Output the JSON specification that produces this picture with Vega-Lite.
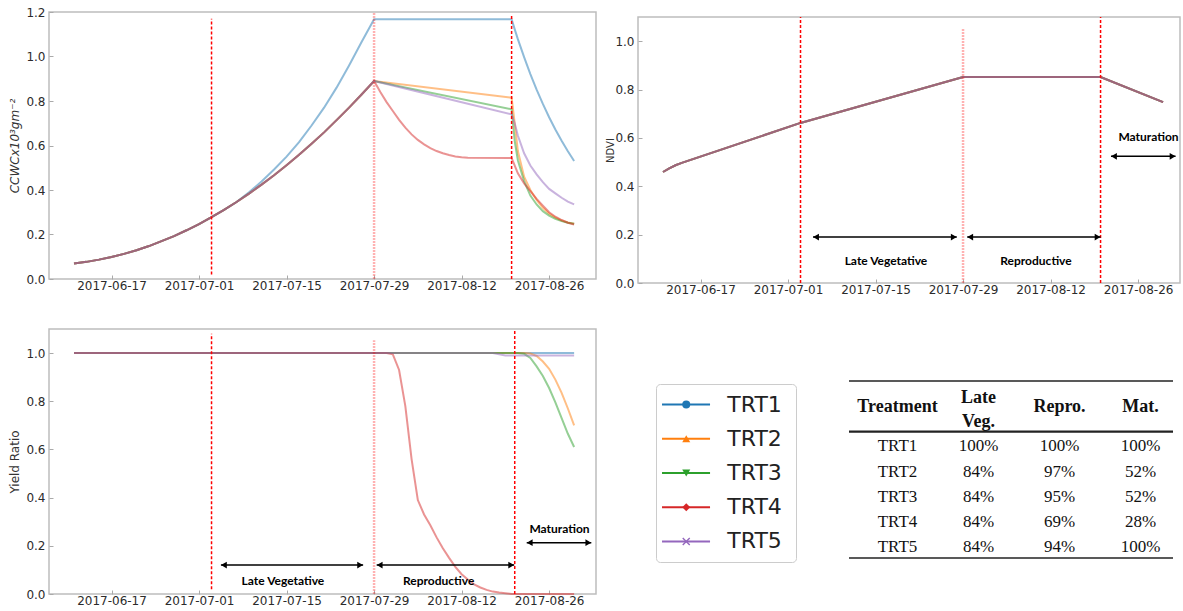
{
  "$schema": "https://vega.github.io/schema/vega-lite/v6.json",
  "padding": {"left": 8, "top": 5, "right": 0, "bottom": 0},
  "background": "white",
  "config": {
    "view": {"stroke": "#bdbdbd", "strokeWidth": 1.5},
    "axis": {"grid": false, "domain": false, "tickSize": -4, "tickColor": "#aaaaaa", "tickWidth": 1, "labelFont": "DejaVu Sans", "labelFontSize": 12, "labelColor": "#2b2b2b", "titleFont": "DejaVu Sans", "titleFontSize": 12, "titleFontWeight": "normal", "titleColor": "#333333"},
    "axisX": {"labelPadding": 5},
    "axisY": {"labelPadding": 8, "titlePadding": 4}
  },
  "spacing": 31,
  "vconcat": [
    {
      "spacing": 8,
      "hconcat": [
        {
          "width": 547,
          "height": 267,
          "layer": [
            {
              "data": {"values": [
                {"d":"2017/06/11","s":"TRT1","v":0.070},{"d":"2017/06/13","s":"TRT1","v":0.077},{"d":"2017/06/15","s":"TRT1","v":0.087},{"d":"2017/06/17","s":"TRT1","v":0.099},{"d":"2017/06/19","s":"TRT1","v":0.113},{"d":"2017/06/21","s":"TRT1","v":0.129},{"d":"2017/06/23","s":"TRT1","v":0.148},{"d":"2017/06/25","s":"TRT1","v":0.170},{"d":"2017/06/27","s":"TRT1","v":0.193},{"d":"2017/06/29","s":"TRT1","v":0.219},{"d":"2017/07/01","s":"TRT1","v":0.247},{"d":"2017/07/03","s":"TRT1","v":0.278},{"d":"2017/07/05","s":"TRT1","v":0.311},{"d":"2017/07/07","s":"TRT1","v":0.346},
                {"d":"2017/07/09","s":"TRT1","v":0.390},{"d":"2017/07/11","s":"TRT1","v":0.438},{"d":"2017/07/13","s":"TRT1","v":0.492},{"d":"2017/07/15","s":"TRT1","v":0.550},{"d":"2017/07/17","s":"TRT1","v":0.615},{"d":"2017/07/19","s":"TRT1","v":0.690},{"d":"2017/07/21","s":"TRT1","v":0.770},{"d":"2017/07/23","s":"TRT1","v":0.860},{"d":"2017/07/25","s":"TRT1","v":0.960},{"d":"2017/07/27","s":"TRT1","v":1.065},{"d":"2017/07/29","s":"TRT1","v":1.167},
                {"d":"2017/08/20","s":"TRT1","v":1.167},{"d":"2017/08/20 12:00","s":"TRT1","v":1.122},{"d":"2017/08/21","s":"TRT1","v":1.078},{"d":"2017/08/22","s":"TRT1","v":0.997},{"d":"2017/08/23","s":"TRT1","v":0.921},{"d":"2017/08/24","s":"TRT1","v":0.851},{"d":"2017/08/25","s":"TRT1","v":0.787},{"d":"2017/08/26","s":"TRT1","v":0.727},{"d":"2017/08/27","s":"TRT1","v":0.672},{"d":"2017/08/28","s":"TRT1","v":0.621},{"d":"2017/08/29","s":"TRT1","v":0.574},{"d":"2017/08/30","s":"TRT1","v":0.530},

                {"d":"2017/06/11","s":"TRT2","v":0.070},{"d":"2017/06/13","s":"TRT2","v":0.077},{"d":"2017/06/15","s":"TRT2","v":0.087},{"d":"2017/06/17","s":"TRT2","v":0.099},{"d":"2017/06/19","s":"TRT2","v":0.113},{"d":"2017/06/21","s":"TRT2","v":0.129},{"d":"2017/06/23","s":"TRT2","v":0.148},{"d":"2017/06/25","s":"TRT2","v":0.170},{"d":"2017/06/27","s":"TRT2","v":0.193},{"d":"2017/06/29","s":"TRT2","v":0.219},{"d":"2017/07/01","s":"TRT2","v":0.247},{"d":"2017/07/03","s":"TRT2","v":0.278},{"d":"2017/07/05","s":"TRT2","v":0.311},{"d":"2017/07/07","s":"TRT2","v":0.346},
                {"d":"2017/07/09","s":"TRT2","v":0.384},{"d":"2017/07/11","s":"TRT2","v":0.424},{"d":"2017/07/13","s":"TRT2","v":0.466},{"d":"2017/07/15","s":"TRT2","v":0.511},{"d":"2017/07/17","s":"TRT2","v":0.558},{"d":"2017/07/19","s":"TRT2","v":0.608},{"d":"2017/07/21","s":"TRT2","v":0.659},{"d":"2017/07/23","s":"TRT2","v":0.714},{"d":"2017/07/25","s":"TRT2","v":0.770},{"d":"2017/07/27","s":"TRT2","v":0.829},{"d":"2017/07/29","s":"TRT2","v":0.890},
                {"d":"2017/08/20","s":"TRT2","v":0.815},{"d":"2017/08/20 12:00","s":"TRT2","v":0.700},{"d":"2017/08/21","s":"TRT2","v":0.575},{"d":"2017/08/22","s":"TRT2","v":0.460},{"d":"2017/08/23","s":"TRT2","v":0.400},{"d":"2017/08/24","s":"TRT2","v":0.355},{"d":"2017/08/25","s":"TRT2","v":0.320},{"d":"2017/08/26","s":"TRT2","v":0.294},{"d":"2017/08/27","s":"TRT2","v":0.276},{"d":"2017/08/28","s":"TRT2","v":0.263},{"d":"2017/08/29","s":"TRT2","v":0.254},{"d":"2017/08/30","s":"TRT2","v":0.248},

                {"d":"2017/06/11","s":"TRT3","v":0.070},{"d":"2017/06/13","s":"TRT3","v":0.077},{"d":"2017/06/15","s":"TRT3","v":0.087},{"d":"2017/06/17","s":"TRT3","v":0.099},{"d":"2017/06/19","s":"TRT3","v":0.113},{"d":"2017/06/21","s":"TRT3","v":0.129},{"d":"2017/06/23","s":"TRT3","v":0.148},{"d":"2017/06/25","s":"TRT3","v":0.170},{"d":"2017/06/27","s":"TRT3","v":0.193},{"d":"2017/06/29","s":"TRT3","v":0.219},{"d":"2017/07/01","s":"TRT3","v":0.247},{"d":"2017/07/03","s":"TRT3","v":0.278},{"d":"2017/07/05","s":"TRT3","v":0.311},{"d":"2017/07/07","s":"TRT3","v":0.346},
                {"d":"2017/07/09","s":"TRT3","v":0.384},{"d":"2017/07/11","s":"TRT3","v":0.424},{"d":"2017/07/13","s":"TRT3","v":0.466},{"d":"2017/07/15","s":"TRT3","v":0.511},{"d":"2017/07/17","s":"TRT3","v":0.558},{"d":"2017/07/19","s":"TRT3","v":0.608},{"d":"2017/07/21","s":"TRT3","v":0.659},{"d":"2017/07/23","s":"TRT3","v":0.714},{"d":"2017/07/25","s":"TRT3","v":0.770},{"d":"2017/07/27","s":"TRT3","v":0.829},{"d":"2017/07/29","s":"TRT3","v":0.890},
                {"d":"2017/08/20","s":"TRT3","v":0.763},{"d":"2017/08/20 12:00","s":"TRT3","v":0.620},{"d":"2017/08/21","s":"TRT3","v":0.534},{"d":"2017/08/22","s":"TRT3","v":0.440},{"d":"2017/08/23","s":"TRT3","v":0.375},{"d":"2017/08/24","s":"TRT3","v":0.335},{"d":"2017/08/25","s":"TRT3","v":0.305},{"d":"2017/08/26","s":"TRT3","v":0.285},{"d":"2017/08/27","s":"TRT3","v":0.270},{"d":"2017/08/28","s":"TRT3","v":0.260},{"d":"2017/08/29","s":"TRT3","v":0.253},{"d":"2017/08/30","s":"TRT3","v":0.248},

                {"d":"2017/06/11","s":"TRT4","v":0.070},{"d":"2017/06/13","s":"TRT4","v":0.077},{"d":"2017/06/15","s":"TRT4","v":0.087},{"d":"2017/06/17","s":"TRT4","v":0.099},{"d":"2017/06/19","s":"TRT4","v":0.113},{"d":"2017/06/21","s":"TRT4","v":0.129},{"d":"2017/06/23","s":"TRT4","v":0.148},{"d":"2017/06/25","s":"TRT4","v":0.170},{"d":"2017/06/27","s":"TRT4","v":0.193},{"d":"2017/06/29","s":"TRT4","v":0.219},{"d":"2017/07/01","s":"TRT4","v":0.247},{"d":"2017/07/03","s":"TRT4","v":0.278},{"d":"2017/07/05","s":"TRT4","v":0.311},{"d":"2017/07/07","s":"TRT4","v":0.346},
                {"d":"2017/07/09","s":"TRT4","v":0.384},{"d":"2017/07/11","s":"TRT4","v":0.424},{"d":"2017/07/13","s":"TRT4","v":0.466},{"d":"2017/07/15","s":"TRT4","v":0.511},{"d":"2017/07/17","s":"TRT4","v":0.558},{"d":"2017/07/19","s":"TRT4","v":0.608},{"d":"2017/07/21","s":"TRT4","v":0.659},{"d":"2017/07/23","s":"TRT4","v":0.714},{"d":"2017/07/25","s":"TRT4","v":0.770},{"d":"2017/07/27","s":"TRT4","v":0.829},{"d":"2017/07/29","s":"TRT4","v":0.890},
                {"d":"2017/07/30","s":"TRT4","v":0.840},{"d":"2017/07/31","s":"TRT4","v":0.795},{"d":"2017/08/01","s":"TRT4","v":0.755},{"d":"2017/08/02","s":"TRT4","v":0.715},{"d":"2017/08/03","s":"TRT4","v":0.680},{"d":"2017/08/04","s":"TRT4","v":0.650},{"d":"2017/08/05","s":"TRT4","v":0.625},{"d":"2017/08/06","s":"TRT4","v":0.605},{"d":"2017/08/07","s":"TRT4","v":0.588},{"d":"2017/08/08","s":"TRT4","v":0.575},{"d":"2017/08/09","s":"TRT4","v":0.565},{"d":"2017/08/10","s":"TRT4","v":0.557},{"d":"2017/08/11","s":"TRT4","v":0.551},{"d":"2017/08/12","s":"TRT4","v":0.547},{"d":"2017/08/13","s":"TRT4","v":0.545},
                {"d":"2017/08/20","s":"TRT4","v":0.544},{"d":"2017/08/20 12:00","s":"TRT4","v":0.510},{"d":"2017/08/21","s":"TRT4","v":0.475},{"d":"2017/08/22","s":"TRT4","v":0.430},{"d":"2017/08/23","s":"TRT4","v":0.395},{"d":"2017/08/24","s":"TRT4","v":0.360},{"d":"2017/08/25","s":"TRT4","v":0.330},{"d":"2017/08/26","s":"TRT4","v":0.300},{"d":"2017/08/27","s":"TRT4","v":0.280},{"d":"2017/08/28","s":"TRT4","v":0.265},{"d":"2017/08/29","s":"TRT4","v":0.253},{"d":"2017/08/30","s":"TRT4","v":0.245},

                {"d":"2017/06/11","s":"TRT5","v":0.070},{"d":"2017/06/13","s":"TRT5","v":0.077},{"d":"2017/06/15","s":"TRT5","v":0.087},{"d":"2017/06/17","s":"TRT5","v":0.099},{"d":"2017/06/19","s":"TRT5","v":0.113},{"d":"2017/06/21","s":"TRT5","v":0.129},{"d":"2017/06/23","s":"TRT5","v":0.148},{"d":"2017/06/25","s":"TRT5","v":0.170},{"d":"2017/06/27","s":"TRT5","v":0.193},{"d":"2017/06/29","s":"TRT5","v":0.219},{"d":"2017/07/01","s":"TRT5","v":0.247},{"d":"2017/07/03","s":"TRT5","v":0.278},{"d":"2017/07/05","s":"TRT5","v":0.311},{"d":"2017/07/07","s":"TRT5","v":0.346},
                {"d":"2017/07/09","s":"TRT5","v":0.384},{"d":"2017/07/11","s":"TRT5","v":0.424},{"d":"2017/07/13","s":"TRT5","v":0.466},{"d":"2017/07/15","s":"TRT5","v":0.511},{"d":"2017/07/17","s":"TRT5","v":0.558},{"d":"2017/07/19","s":"TRT5","v":0.608},{"d":"2017/07/21","s":"TRT5","v":0.659},{"d":"2017/07/23","s":"TRT5","v":0.714},{"d":"2017/07/25","s":"TRT5","v":0.770},{"d":"2017/07/27","s":"TRT5","v":0.829},{"d":"2017/07/29","s":"TRT5","v":0.890},
                {"d":"2017/08/20","s":"TRT5","v":0.740},{"d":"2017/08/20 12:00","s":"TRT5","v":0.700},{"d":"2017/08/21","s":"TRT5","v":0.645},{"d":"2017/08/22","s":"TRT5","v":0.565},{"d":"2017/08/23","s":"TRT5","v":0.510},{"d":"2017/08/24","s":"TRT5","v":0.470},{"d":"2017/08/25","s":"TRT5","v":0.435},{"d":"2017/08/26","s":"TRT5","v":0.405},{"d":"2017/08/27","s":"TRT5","v":0.385},{"d":"2017/08/28","s":"TRT5","v":0.365},{"d":"2017/08/29","s":"TRT5","v":0.348},{"d":"2017/08/30","s":"TRT5","v":0.335}
              ]},
              "mark": {"type": "line", "strokeWidth": 2, "opacity": 0.5},
              "encoding": {
                "x": {"field": "d", "type": "temporal", "title": null,
                      "scale": {"domain": [{"year":2017,"month":6,"date":7},{"year":2017,"month":9,"date":2,"hours":12}]},
                      "axis": {"format": "%Y-%m-%d", "labelAngle": 0, "values": [{"year":2017,"month":6,"date":17},{"year":2017,"month":7,"date":1},{"year":2017,"month":7,"date":15},{"year":2017,"month":7,"date":29},{"year":2017,"month":8,"date":12},{"year":2017,"month":8,"date":26}]}},
                "y": {"field": "v", "type": "quantitative", "title": "CCWCx10³gm⁻²",
                      "scale": {"domain": [0, 1.2]},
                      "axis": {"values": [0,0.2,0.4,0.6,0.8,1.0,1.2], "format": ".1f", "titleFontStyle": "italic"}},
                "color": {"field": "s", "type": "nominal", "legend": null,
                          "scale": {"domain": ["TRT1","TRT2","TRT3","TRT4","TRT5"], "range": ["#1f77b4","#ff7f0e","#2ca02c","#d62728","#9467bd"]}}
              }
            },
            {
              "data": {"values": [{"d":"2017/07/03","y1":0.02,"y2":1.17},{"d":"2017/08/20","y1":0,"y2":1.19}]},
              "mark": {"type": "rule", "color": "#ff0000", "strokeDash": [3, 2], "strokeWidth": 1.5},
              "encoding": {
                "x": {"field": "d", "type": "temporal", "title": null},
                "y": {"field": "y1", "type": "quantitative", "title": "CCWCx10³gm⁻²"},
                "y2": {"field": "y2"}
              }
            },
            {
              "data": {"values": [{"d":"2017/07/29","y1":0,"y2":1.2}]},
              "mark": {"type": "rule", "color": "#ff0000", "strokeDash": [2, 1], "strokeWidth": 2.5, "opacity": 0.3},
              "encoding": {
                "x": {"field": "d", "type": "temporal", "title": null},
                "y": {"field": "y1", "type": "quantitative", "title": "CCWCx10³gm⁻²"},
                "y2": {"field": "y2"}
              }
            }
          ]
        },
        {
          "spacing": 2,
          "vconcat": [
            {"width": 10, "height": 1, "view": {"stroke": null}, "data": {"values": [{}]}, "mark": {"type": "rule", "opacity": 0}, "encoding": {}},
            {
              "width": 542,
              "height": 266,
              "layer": [
                {
                  "data": {"values": [
                    {"d":"2017/06/11","s":"TRT1","v":0.459},{"d":"2017/06/12","s":"TRT1","v":0.474},{"d":"2017/06/13","s":"TRT1","v":0.487},{"d":"2017/06/14","s":"TRT1","v":0.497},{"d":"2017/07/03","s":"TRT1","v":0.662},{"d":"2017/07/29","s":"TRT1","v":0.852},{"d":"2017/08/20","s":"TRT1","v":0.852},{"d":"2017/08/30","s":"TRT1","v":0.748},
                    {"d":"2017/06/11","s":"TRT2","v":0.459},{"d":"2017/06/12","s":"TRT2","v":0.474},{"d":"2017/06/13","s":"TRT2","v":0.487},{"d":"2017/06/14","s":"TRT2","v":0.497},{"d":"2017/07/03","s":"TRT2","v":0.662},{"d":"2017/07/29","s":"TRT2","v":0.852},{"d":"2017/08/20","s":"TRT2","v":0.852},{"d":"2017/08/30","s":"TRT2","v":0.748},
                    {"d":"2017/06/11","s":"TRT3","v":0.459},{"d":"2017/06/12","s":"TRT3","v":0.474},{"d":"2017/06/13","s":"TRT3","v":0.487},{"d":"2017/06/14","s":"TRT3","v":0.497},{"d":"2017/07/03","s":"TRT3","v":0.662},{"d":"2017/07/29","s":"TRT3","v":0.852},{"d":"2017/08/20","s":"TRT3","v":0.852},{"d":"2017/08/30","s":"TRT3","v":0.748},
                    {"d":"2017/06/11","s":"TRT4","v":0.459},{"d":"2017/06/12","s":"TRT4","v":0.474},{"d":"2017/06/13","s":"TRT4","v":0.487},{"d":"2017/06/14","s":"TRT4","v":0.497},{"d":"2017/07/03","s":"TRT4","v":0.662},{"d":"2017/07/29","s":"TRT4","v":0.852},{"d":"2017/08/20","s":"TRT4","v":0.852},{"d":"2017/08/30","s":"TRT4","v":0.748},
                    {"d":"2017/06/11","s":"TRT5","v":0.459},{"d":"2017/06/12","s":"TRT5","v":0.474},{"d":"2017/06/13","s":"TRT5","v":0.487},{"d":"2017/06/14","s":"TRT5","v":0.497},{"d":"2017/07/03","s":"TRT5","v":0.662},{"d":"2017/07/29","s":"TRT5","v":0.852},{"d":"2017/08/20","s":"TRT5","v":0.852},{"d":"2017/08/30","s":"TRT5","v":0.748}
                  ]},
                  "mark": {"type": "line", "strokeWidth": 2, "opacity": 0.5},
                  "encoding": {
                    "x": {"field": "d", "type": "temporal", "title": null,
                          "scale": {"domain": [{"year":2017,"month":6,"date":7},{"year":2017,"month":9,"date":1,"hours":17}]},
                          "axis": {"format": "%Y-%m-%d", "labelAngle": 0, "values": [{"year":2017,"month":6,"date":17},{"year":2017,"month":7,"date":1},{"year":2017,"month":7,"date":15},{"year":2017,"month":7,"date":29},{"year":2017,"month":8,"date":12},{"year":2017,"month":8,"date":26}]}},
                    "y": {"field": "v", "type": "quantitative", "title": "NDVI",
                          "scale": {"domain": [0, 1.1]},
                          "axis": {"values": [0,0.2,0.4,0.6,0.8,1.0], "format": ".1f", "titleFontSize": 10, "titlePadding": -1}},
                    "color": {"field": "s", "type": "nominal", "legend": null,
                              "scale": {"domain": ["TRT1","TRT2","TRT3","TRT4","TRT5"], "range": ["#1f77b4","#ff7f0e","#2ca02c","#d62728","#9467bd"]}}
                  }
                },
                {
                  "data": {"values": [{"d":"2017/07/03","y1":0,"y2":1.1},{"d":"2017/08/20","y1":0,"y2":1.1}]},
                  "mark": {"type": "rule", "color": "#ff0000", "strokeDash": [3, 2], "strokeWidth": 1.5},
                  "encoding": {
                    "x": {"field": "d", "type": "temporal", "title": null},
                    "y": {"field": "y1", "type": "quantitative", "title": "NDVI"},
                    "y2": {"field": "y2"}
                  }
                },
                {
                  "data": {"values": [{"d":"2017/07/29","y1":0,"y2":1.05}]},
                  "mark": {"type": "rule", "color": "#ff0000", "strokeDash": [2, 1], "strokeWidth": 2.5, "opacity": 0.3},
                  "encoding": {
                    "x": {"field": "d", "type": "temporal", "title": null},
                    "y": {"field": "y1", "type": "quantitative", "title": "NDVI"},
                    "y2": {"field": "y2"}
                  }
                },
                {
                  "data": {"values": [{"a":"2017/07/05","b":"2017/07/28","y":0.19},{"a":"2017/07/29 16:00","b":"2017/08/20","y":0.19},{"a":"2017/08/21 16:00","b":"2017/09/01","y":0.524}]},
                  "layer": [
                    {"mark": {"type": "rule", "color": "black", "strokeWidth": 1.5},
                     "encoding": {"x": {"field": "a", "type": "temporal", "title": null}, "x2": {"field": "b"}, "y": {"field": "y", "type": "quantitative", "title": "NDVI"}}},
                    {"mark": {"type": "point", "shape": "triangle-left", "filled": true, "color": "black", "size": 45, "opacity": 1},
                     "encoding": {"x": {"field": "a", "type": "temporal", "title": null}, "xOffset": {"value": 3}, "y": {"field": "y", "type": "quantitative", "title": "NDVI"}}},
                    {"mark": {"type": "point", "shape": "triangle-right", "filled": true, "color": "black", "size": 45, "opacity": 1},
                     "encoding": {"x": {"field": "b", "type": "temporal", "title": null}, "xOffset": {"value": -3}, "y": {"field": "y", "type": "quantitative", "title": "NDVI"}}}
                  ]
                },
                {
                  "data": {"values": [{"d":"2017/07/16 16:00","y":0.09,"t":"Late Vegetative"},{"d":"2017/08/09 16:00","y":0.09,"t":"Reproductive"},{"d":"2017/08/27 16:00","y":0.604,"t":"Maturation"}]},
                  "mark": {"type": "text", "font": "Lato", "fontWeight": "bold", "fontSize": 12, "color": "black", "baseline": "middle"},
                  "encoding": {"x": {"field": "d", "type": "temporal", "title": null}, "y": {"field": "y", "type": "quantitative", "title": "NDVI"}, "text": {"field": "t"}}
                }
              ]
            }
          ]
        }
      ]
    },
    {
      "spacing": 58,
      "hconcat": [
        {
          "width": 547,
          "height": 265,
          "layer": [
            {
              "data": {"values": [
                {"d":"2017/06/11","s":"TRT1","v":1},{"d":"2017/08/30","s":"TRT1","v":1},
                {"d":"2017/06/11","s":"TRT2","v":1},{"d":"2017/08/22","s":"TRT2","v":1},{"d":"2017/08/23","s":"TRT2","v":0.998},{"d":"2017/08/24","s":"TRT2","v":0.988},{"d":"2017/08/25","s":"TRT2","v":0.965},{"d":"2017/08/26","s":"TRT2","v":0.935},{"d":"2017/08/27","s":"TRT2","v":0.89},{"d":"2017/08/28","s":"TRT2","v":0.835},{"d":"2017/08/29","s":"TRT2","v":0.77},{"d":"2017/08/30","s":"TRT2","v":0.70},
                {"d":"2017/06/11","s":"TRT3","v":1},{"d":"2017/08/21","s":"TRT3","v":1},{"d":"2017/08/22","s":"TRT3","v":0.997},{"d":"2017/08/23","s":"TRT3","v":0.98},{"d":"2017/08/24","s":"TRT3","v":0.945},{"d":"2017/08/25","s":"TRT3","v":0.905},{"d":"2017/08/26","s":"TRT3","v":0.855},{"d":"2017/08/27","s":"TRT3","v":0.795},{"d":"2017/08/28","s":"TRT3","v":0.73},{"d":"2017/08/29","s":"TRT3","v":0.665},{"d":"2017/08/30","s":"TRT3","v":0.61},
                {"d":"2017/06/11","s":"TRT4","v":1},{"d":"2017/07/31","s":"TRT4","v":1},{"d":"2017/08/01","s":"TRT4","v":0.995},{"d":"2017/08/02","s":"TRT4","v":0.93},{"d":"2017/08/03","s":"TRT4","v":0.78},{"d":"2017/08/04","s":"TRT4","v":0.56},{"d":"2017/08/05","s":"TRT4","v":0.39},{"d":"2017/08/06","s":"TRT4","v":0.33},{"d":"2017/08/07","s":"TRT4","v":0.285},{"d":"2017/08/08","s":"TRT4","v":0.235},{"d":"2017/08/09","s":"TRT4","v":0.19},{"d":"2017/08/10","s":"TRT4","v":0.15},{"d":"2017/08/11","s":"TRT4","v":0.113},{"d":"2017/08/12","s":"TRT4","v":0.082},{"d":"2017/08/13","s":"TRT4","v":0.06},{"d":"2017/08/14","s":"TRT4","v":0.04},{"d":"2017/08/15","s":"TRT4","v":0.027},{"d":"2017/08/16","s":"TRT4","v":0.017},{"d":"2017/08/17","s":"TRT4","v":0.01},{"d":"2017/08/18","s":"TRT4","v":0.006},{"d":"2017/08/19","s":"TRT4","v":0.003},{"d":"2017/08/20","s":"TRT4","v":0},{"d":"2017/08/30","s":"TRT4","v":0},
                {"d":"2017/06/11","s":"TRT5","v":1},{"d":"2017/08/17","s":"TRT5","v":1},{"d":"2017/08/19","s":"TRT5","v":0.99},{"d":"2017/08/30","s":"TRT5","v":0.99}
              ]},
              "mark": {"type": "line", "strokeWidth": 2, "opacity": 0.5},
              "encoding": {
                "x": {"field": "d", "type": "temporal", "title": null,
                      "scale": {"domain": [{"year":2017,"month":6,"date":7},{"year":2017,"month":9,"date":2,"hours":12}]},
                      "axis": {"format": "%Y-%m-%d", "labelAngle": 0, "values": [{"year":2017,"month":6,"date":17},{"year":2017,"month":7,"date":1},{"year":2017,"month":7,"date":15},{"year":2017,"month":7,"date":29},{"year":2017,"month":8,"date":12},{"year":2017,"month":8,"date":26}]}},
                "y": {"field": "v", "type": "quantitative", "title": "Yield Ratio",
                      "scale": {"domain": [0, 1.1]},
                      "axis": {"values": [0,0.2,0.4,0.6,0.8,1.0], "format": ".1f"}},
                "color": {"field": "s", "type": "nominal", "legend": null,
                          "scale": {"domain": ["TRT1","TRT2","TRT3","TRT4","TRT5"], "range": ["#1f77b4","#ff7f0e","#2ca02c","#d62728","#9467bd"]}}
              }
            },
            {
              "data": {"values": [{"d":"2017/07/03","y1":0.02,"y2":1.08},{"d":"2017/08/20 12:00","y1":0,"y2":1.1}]},
              "mark": {"type": "rule", "color": "#ff0000", "strokeDash": [3, 2], "strokeWidth": 1.5},
              "encoding": {
                "x": {"field": "d", "type": "temporal", "title": null},
                "y": {"field": "y1", "type": "quantitative", "title": "Yield Ratio"},
                "y2": {"field": "y2"}
              }
            },
            {
              "data": {"values": [{"d":"2017/07/29","y1":0,"y2":1.053}]},
              "mark": {"type": "rule", "color": "#ff0000", "strokeDash": [2, 1], "strokeWidth": 2.5, "opacity": 0.3},
              "encoding": {
                "x": {"field": "d", "type": "temporal", "title": null},
                "y": {"field": "y1", "type": "quantitative", "title": "Yield Ratio"},
                "y2": {"field": "y2"}
              }
            },
            {
              "data": {"values": [{"a":"2017/07/04 12:00","b":"2017/07/27 06:00","y":0.12},{"a":"2017/07/29 10:00","b":"2017/08/20 10:00","y":0.12},{"a":"2017/08/22 10:00","b":"2017/09/01 18:00","y":0.213}]},
              "layer": [
                {"mark": {"type": "rule", "color": "black", "strokeWidth": 1.5},
                 "encoding": {"x": {"field": "a", "type": "temporal", "title": null}, "x2": {"field": "b"}, "y": {"field": "y", "type": "quantitative", "title": "Yield Ratio"}}},
                {"mark": {"type": "point", "shape": "triangle-left", "filled": true, "color": "black", "size": 45, "opacity": 1},
                 "encoding": {"x": {"field": "a", "type": "temporal", "title": null}, "xOffset": {"value": 3}, "y": {"field": "y", "type": "quantitative", "title": "Yield Ratio"}}},
                {"mark": {"type": "point", "shape": "triangle-right", "filled": true, "color": "black", "size": 45, "opacity": 1},
                 "encoding": {"x": {"field": "b", "type": "temporal", "title": null}, "xOffset": {"value": -3}, "y": {"field": "y", "type": "quantitative", "title": "Yield Ratio"}}}
              ]
            },
            {
              "data": {"values": [{"d":"2017/07/14 10:00","y":0.054,"t":"Late Vegetative"},{"d":"2017/08/08 08:00","y":0.054,"t":"Reproductive"},{"d":"2017/08/27 16:00","y":0.27,"t":"Maturation"}]},
              "mark": {"type": "text", "font": "Lato", "fontWeight": "bold", "fontSize": 12, "color": "black", "baseline": "middle"},
              "encoding": {"x": {"field": "d", "type": "temporal", "title": null}, "y": {"field": "y", "type": "quantitative", "title": "Yield Ratio"}, "text": {"field": "t"}}
            }
          ]
        },
        {
          "spacing": 50,
          "hconcat": [
            {
              "spacing": 53,
              "vconcat": [
                {"width": 10, "height": 1, "view": {"stroke": null}, "data": {"values": [{}]}, "mark": {"type": "rule", "opacity": 0}, "encoding": {}},
                {
                  "width": 140,
                  "height": 178,
                  "view": {"stroke": "#cccccc", "strokeWidth": 1, "cornerRadius": 4},
                  "data": {"values": [{"s":"TRT1"},{"s":"TRT2"},{"s":"TRT3"},{"s":"TRT4"},{"s":"TRT5"}]},
                  "encoding": {
                    "y": {"field": "s", "type": "nominal", "scale": {"type": "point", "padding": 0.6}, "axis": null}
                  },
                  "layer": [
                    {"mark": {"type": "rule", "strokeWidth": 2},
                     "encoding": {"x": {"datum": 0.43, "type": "quantitative", "scale": {"domain": [0, 10]}, "axis": null}, "x2": {"datum": 3.86},
                                  "color": {"field": "s", "type": "nominal", "legend": null, "scale": {"domain": ["TRT1","TRT2","TRT3","TRT4","TRT5"], "range": ["#1f77b4","#ff7f0e","#2ca02c","#d62728","#9467bd"]}}}},
                    {"mark": {"type": "point", "filled": true, "size": 64, "opacity": 1},
                     "encoding": {"x": {"datum": 2.16, "type": "quantitative"},
                                  "shape": {"field": "s", "type": "nominal", "legend": null, "scale": {"domain": ["TRT1","TRT2","TRT3","TRT4","TRT5"], "range": ["circle","triangle-up","triangle-down","diamond","M-1,-0.75L-0.75,-1L0,-0.25L0.75,-1L1,-0.75L0.25,0L1,0.75L0.75,1L0,0.25L-0.75,1L-1,0.75L-0.25,0Z"]}},
                                  "color": {"field": "s", "type": "nominal", "legend": null}}},
                    {"mark": {"type": "text", "align": "left", "baseline": "middle", "font": "DejaVu Sans", "fontSize": 22, "color": "#222222"},
                     "encoding": {"x": {"datum": 5.09, "type": "quantitative"}, "text": {"field": "s"}}}
                  ]
                }
              ]
            },
            {
              "spacing": 50,
              "vconcat": [
                {"width": 10, "height": 1, "view": {"stroke": null}, "data": {"values": [{}]}, "mark": {"type": "rule", "opacity": 0}, "encoding": {}},
                {
                  "width": 324,
                  "height": 177,
                  "view": {"stroke": null},
                  "layer": [
                    {
                      "data": {"values": [
                        {"tr":"TRT1","lv":"100%","rp":"100%","mt":"100%"},
                        {"tr":"TRT2","lv":"84%","rp":"97%","mt":"52%"},
                        {"tr":"TRT3","lv":"84%","rp":"95%","mt":"52%"},
                        {"tr":"TRT4","lv":"84%","rp":"69%","mt":"28%"},
                        {"tr":"TRT5","lv":"84%","rp":"94%","mt":"100%"}
                      ]},
                      "transform": [{"fold": ["tr","lv","rp","mt"], "as": ["c","t"]}],
                      "mark": {"type": "text", "font": "Liberation Serif", "fontSize": 17, "color": "#111111", "baseline": "middle", "dx": 8, "dy": 2},
                      "encoding": {
                        "x": {"field": "c", "type": "nominal", "scale": {"type": "band", "domain": ["tr","lv","rp","mt"], "paddingInner": 0, "paddingOuter": 0}, "axis": null},
                        "y": {"field": "tr", "type": "nominal", "scale": {"type": "band", "domain": ["h1","h2","TRT1","TRT2","TRT3","TRT4","TRT5"], "paddingInner": 0, "paddingOuter": 0}, "axis": null},
                        "text": {"field": "t"}
                      }
                    },
                    {
                      "data": {"values": [{"c":"tr","t":"Treatment"},{"c":"rp","t":"Repro."},{"c":"mt","t":"Mat."}]},
                      "mark": {"type": "text", "font": "Liberation Serif", "fontWeight": "bold", "fontSize": 18, "color": "#111111", "baseline": "middle", "dx": 8, "dy": 1},
                      "encoding": {
                        "x": {"field": "c", "type": "nominal"},
                        "y": {"datum": "h2", "type": "nominal", "bandPosition": 0},
                        "text": {"field": "t"}
                      }
                    },
                    {
                      "data": {"values": [{"c":"lv","t":["Late","Veg."]}]},
                      "mark": {"type": "text", "font": "Liberation Serif", "fontWeight": "bold", "fontSize": 18, "color": "#111111", "baseline": "middle", "dx": 8, "dy": -8, "lineHeight": 24},
                      "encoding": {
                        "x": {"field": "c", "type": "nominal"},
                        "y": {"datum": "h2", "type": "nominal", "bandPosition": 0},
                        "text": {"field": "t"}
                      }
                    },
                    {
                      "data": {"values": [{"r":"h1"}]},
                      "mark": {"type": "rule", "color": "#222222", "strokeWidth": 1.5},
                      "encoding": {"y": {"field": "r", "type": "nominal", "bandPosition": 0}}
                    },
                    {
                      "data": {"values": [{"r":"TRT1"}]},
                      "mark": {"type": "rule", "color": "#222222", "strokeWidth": 2.2},
                      "encoding": {"y": {"field": "r", "type": "nominal", "bandPosition": 0}}
                    },
                    {
                      "data": {"values": [{"r":"TRT5"}]},
                      "mark": {"type": "rule", "color": "#222222", "strokeWidth": 1.5},
                      "encoding": {"y": {"field": "r", "type": "nominal", "bandPosition": 1}}
                    }
                  ]
                }
              ]
            }
          ]
        }
      ]
    }
  ]
}
